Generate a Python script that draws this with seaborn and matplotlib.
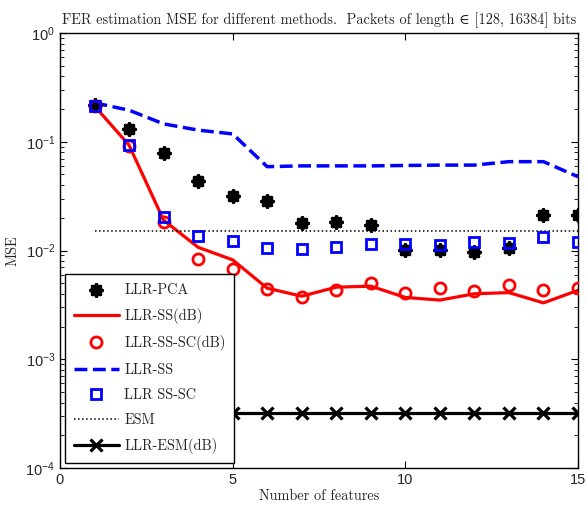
import numpy as np
import pandas as pd
import matplotlib
matplotlib.use("Agg")
import matplotlib.pyplot as plt
import seaborn as sns

# ---- data ----
features = [1, 2, 3, 4, 5, 6, 7, 8, 9, 10, 11, 12, 13, 14, 15]
llr_pca = [0.218, 0.13, 0.078, 0.044, 0.0317, 0.0287, 0.018, 0.0183, 0.0171,
           0.0101, 0.0102, 0.0097, 0.0106, 0.021, 0.0212]
llr_ss_db = [0.213, 0.093, 0.019, 0.0107, 0.0082, 0.0045, 0.0038, 0.0046, 0.0047,
             0.0037, 0.0035, 0.0040, 0.0041, 0.0033, 0.0043]
llr_ss_sc_db = [0.213, 0.092, 0.0182, 0.0083, 0.0067, 0.0044, 0.00376, 0.00433, 0.0050,
                0.0041, 0.00455, 0.0042, 0.0048, 0.0043, 0.00455]
llr_ss = [0.228, 0.195, 0.146, 0.128, 0.118, 0.059, 0.06, 0.06, 0.06,
          0.0605, 0.061, 0.061, 0.0656, 0.0656, 0.0477]
llr_ss_sc = [0.213, 0.0934, 0.0202, 0.0136, 0.0121, 0.0106, 0.0103, 0.0107, 0.0115,
             0.0115, 0.0112, 0.0119, 0.0118, 0.0132, 0.012]
esm = [0.0151] * 15
llr_esm_db = [3.2e-4] * 15

labels = ["LLR-PCA", "LLR-SS(dB)", "LLR-SS-SC(dB)", "LLR-SS", "LLR SS-SC", "ESM", "LLR-ESM(dB)"]
xticks = [0, 5, 10, 15]

sns.set_style("ticks")
plt.rcParams["font.family"] = ["Liberation Sans", "DejaVu Sans"]
plt.rcParams["mathtext.fontset"] = "custom"
plt.rcParams["mathtext.rm"] = "Liberation Sans"
plt.rcParams["mathtext.it"] = "Liberation Sans:italic"
plt.rcParams["mathtext.bf"] = "Liberation Sans:bold"
serif = ["cmr10", "DejaVu Serif"]

fig = plt.figure(figsize=(5.87, 5.07), dpi=100)
ax = fig.add_axes([60 / 587, 1 - 468 / 507, 518 / 587, 435 / 507])

df = pd.DataFrame({"x": features, "pca": llr_pca, "ssdb": llr_ss_db, "sscdb": llr_ss_sc_db,
                   "ss": llr_ss, "ssc": llr_ss_sc, "esm": esm, "esmdb": llr_esm_db})

sns.scatterplot(data=df, x="x", y="pca", ax=ax, marker=(8, 2, 0), s=60,
                color="black", edgecolor="black", linewidth=2.8, label=labels[0], zorder=3)
sns.lineplot(data=df, x="x", y="ssdb", ax=ax, color="red", lw=2.3, label=labels[1], zorder=2)
sns.lineplot(data=df, x="x", y="sscdb", ax=ax, color="none", marker="o", markersize=8,
             markerfacecolor="none", markeredgecolor="red", markeredgewidth=2, linestyle="none",
             label=labels[2], zorder=3)
sns.lineplot(data=df, x="x", y="ss", ax=ax, color="blue", lw=2.5, label=labels[3],
             dashes=False, zorder=2)
ax.lines[-1].set_dashes((3.7, 1.6))
sns.lineplot(data=df, x="x", y="ssc", ax=ax, color="none", marker="s", markersize=6.8,
             markerfacecolor="none", markeredgecolor="blue", markeredgewidth=2, linestyle="none",
             label=labels[4], zorder=4)
sns.lineplot(data=df, x="x", y="esm", ax=ax, color="black", lw=1.1, linestyle=":",
             label=labels[5], zorder=2)
sns.lineplot(data=df, x="x", y="esmdb", ax=ax, color="black", lw=2.3, marker="x",
             markersize=9, markeredgewidth=2.3, markeredgecolor="black", label=labels[6], zorder=3)

ax.set_yscale("log")
ax.set_xlim(0, 15)
ax.set_ylim(1e-4, 1)
ax.set_xticks(xticks)
ax.set_xticklabels([str(t) for t in xticks])
ax.tick_params(which="both", direction="in", top=True, right=True, labelsize=10.5, color="black")
ax.tick_params(which="major", length=5, width=0.8)
ax.tick_params(which="minor", length=3, width=0.6)
for s in ax.spines.values():
    s.set_color("black")
    s.set_linewidth(1.0)

ax.set_xlabel("Number of features", family=serif, fontsize=10.3, labelpad=2)
ax.set_ylabel("MSE", family=serif, fontsize=10.3, labelpad=4)
ax.set_title("FER estimation MSE for different methods.  Packets of length \u2208 [128, 16384] bits",
             family=serif, fontsize=10.3, pad=6)

handles, lbls = ax.get_legend_handles_labels()
leg = ax.legend(handles, lbls, loc="lower left", bbox_to_anchor=(0.0097, 0.0115), borderaxespad=0,
                prop={"family": serif, "size": 10.3}, frameon=True, fancybox=False,
                edgecolor="black", framealpha=1, handlelength=3.2, handletextpad=0.35,
                labelspacing=0.8, borderpad=0.6)
leg.get_frame().set_linewidth(1.0)

fig.savefig("out.png", dpi=100)
